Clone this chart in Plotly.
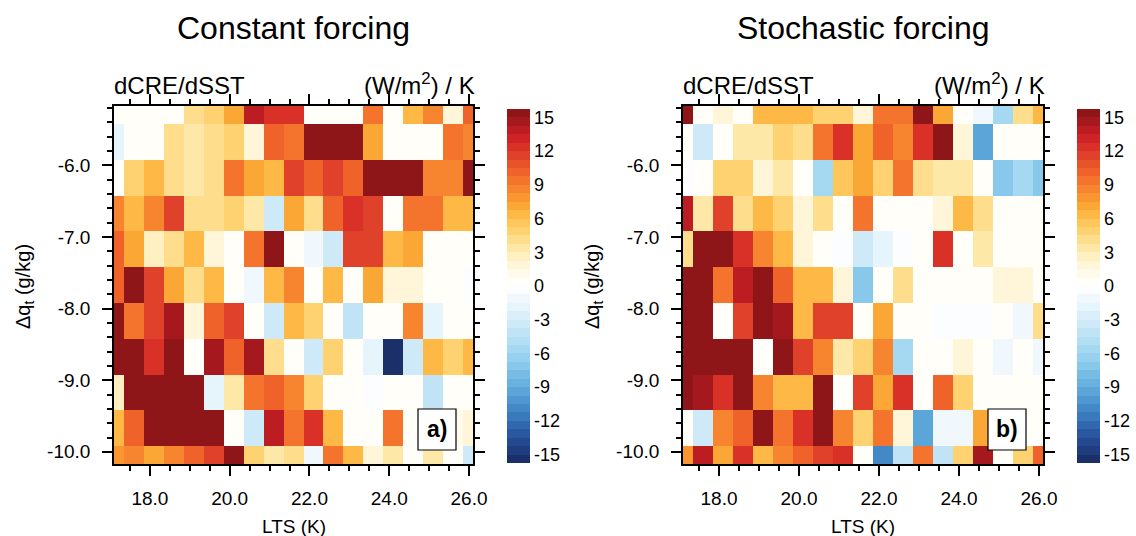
import plotly.graph_objects as go

# ---- data -------------------------------------------------------------
# bin centres of the LTS / delta-q_t grid
lts = [17.1, 17.6, 18.1, 18.6, 19.1, 19.6, 20.1, 20.6, 21.1, 21.6,
       22.1, 22.6, 23.1, 23.6, 24.1, 24.6, 25.1, 25.6, 26.1]
dqt = [-5.17, -5.67, -6.17, -6.67, -7.17, -7.67, -8.17, -8.67, -9.17, -9.67, -10.17]

# dCRE/dSST, (W/m2)/K; one row per dqt bin (same order as dqt)
const_forcing = [
    [0, 0, 0.5, 0, 4.2, 5.2, 7.2, 13.8, 12.5, 12.5, 0.5, 0.5, 0, 9.5, 0, 6.3, 8.5, 2.0, 10.3],
    [-2.0, 0, 0, 4.2, 3.5, 4.2, 5.2, 2.0, 10.3, 9.5, 16, 16, 16, 7.2, 0, 0, 0, 9.5, 8.5],
    [0, 5.2, 6.3, 4.2, 3.5, 4.2, 9.5, 7.2, 6.3, 11.5, 10.3, 11.5, 10.3, 16, 16, 16, 8.5, 8.5, 16],
    [8.5, 6.3, 8.5, 11.5, 4.2, 4.2, 5.2, 3.5, -3.3, 7.2, 4.2, 10.3, 12.5, 11.5, 0.5, 9.5, 9.5, 6.3, 6.3],
    [10.3, 7.2, 2.6, 4.2, 6.3, 2.0, 0.5, 9.5, 16, 0, -1.2, -3.3, 11.5, 11.5, 6.3, 7.2, 0.5, 0.5, 0.5],
    [10.3, 16, 11.5, 7.2, 4.2, 6.3, 0, -1.2, 6.3, 8.5, 0.5, 6.3, 0, 7.2, 2.0, 2.0, 0.2, 0, -0.5],
    [16, 9.5, 11.5, 14.5, 2.0, 10.3, 11.5, 0, -3.3, 6.3, 5.2, 0.3, -4.2, 0.3, 0.3, 8.5, -2.0, 0, 0],
    [16, 16, 12.5, 16, 0, 14.5, 10.3, 14.5, 4.2, 0, -3.3, 5.2, 0, -2.0, -16, -3.3, 6.3, 5.2, 6.3],
    [2.6, 16, 16, 16, 16, -2.0, 3.5, 9.5, 10.3, 8.5, 5.2, 0, 0, -0.2, 0.2, 0.2, -4.2, 0.2, 0],
    [6.3, 10.3, 16, 16, 16, 16, 0, -3.3, 13.8, 9.5, 12.5, 6.3, 0.4, 0.4, 9.5, 0.2, 0.2, 0.8, 1.5],
    [8.0, 8.5, 7.2, 8.5, 10.3, 11.5, 16, 5.2, 3.5, 4.2, -1.2, 9.5, 6.3, 2.0, 3.5, 0, 3.5, 0.5, -3.3],
]

stoch_forcing = [
    [16, 0, 2.0, 0.5, 6.3, 6.3, 6.3, 5.2, 5.2, 2.0, 9.5, 9.5, 16, 7.2, 0.3, -1.2, -5.6, 4.2, 6.3],
    [0, -3.3, 0, 3.5, 3.5, 5.2, 4.2, 9.5, 12.5, 7.2, 10.3, 8.5, 12.5, 16, 2.0, -9.5, 0, 0, 0],
    [-0.2, 0, 5.2, 5.2, 2.0, 3.5, 0.5, -5.6, 5.8, 7.2, 5.2, 9.5, 4.2, 3.5, 3.5, 0.3, -7.2, -5.6, -7.2],
    [13.8, 3.5, 11.5, 4.2, 6.3, 5.2, 2.0, 4.2, 0, 9.5, 0.5, 0.5, 0, 2.0, 6.3, 4.2, 0, 0.2, 0.3],
    [4.2, 16, 16, 12.5, 8.5, 6.3, 2.0, 0, -0.3, -3.3, -2.0, -0.3, 0, 12.5, 0, 3.5, 0, 0, 0],
    [16, 16, 9.5, 13.8, 16, 10.3, 6.3, 6.3, 2.0, -7.2, 0, 4.2, 0.3, 0, 0, 0, 2.0, 2.0, 0],
    [16, 16, 0, 11.5, 16, 14.5, 6.3, 11.5, 11.5, 0, 7.2, 0, 0.3, -0.2, -0.2, -0.2, 0, -1.2, 4.2],
    [16, 16, 16, 16, 0.5, 16, 11.5, 8.5, 3.5, 5.2, 8.5, -5.6, 0, 0, 2.0, 0, -1.2, 0, -1.0],
    [16, 14.5, 12.5, 16, 8.5, 6.3, 6.3, 16, 0, 11.5, 7.2, 12.5, 0.3, 10.3, 5.2, 0, 0, 0, 0],
    [0.3, -3.3, 8.5, 10.3, 16, 9.5, 12.5, 16, 8.5, 5.2, 9.5, 2.0, -9.5, -1.2, -1.2, 7.2, 0.3, 0.3, 0.3],
    [8.0, 13.8, 7.2, 12.5, 6.3, 8.5, 10.3, 11.5, 12.5, 0, -11, -4.2, 9.5, -4.2, 5.2, 14.5, 0, 5.2, 10.3],
]

cbar_ticks = [15, 12, 9, 6, 3, 0, -3, -6, -9, -12, -15]
x_ticks = [18, 20, 22, 24, 26]
y_ticks = [-10, -9, -8, -7, -6]

# ---- blue-white-orange-red palette, 42 boxes of 0.75 from -15.75 to 15.75
palette = [
    "#1B2F68", "#203D7F", "#244990", "#2A58A0", "#3168AF", "#3A79BC", "#4388C7",
    "#4E97D0", "#5CA5D8", "#69B1DF", "#78BCE5", "#88C8EB", "#97D1EF", "#A5D8F1",
    "#B3DEF3", "#C0E4F5", "#CEE9F7", "#DAEFF9", "#E6F4FB", "#F0F8FD", "#FBFDFF",
    "#FFFEF9", "#FFFAEA", "#FFF6D9", "#FFF0C2", "#FEE8A8", "#FEDD8C", "#FED271",
    "#FEC65B", "#FDB845", "#FBA735", "#F99632", "#F7852F", "#F4742D", "#EF632B",
    "#E8532A", "#E0412A", "#D93127", "#CF2327", "#BB1D23", "#A5191E", "#8E1518",
]
n = len(palette)
colorscale = []
for i, c in enumerate(palette):
    colorscale.append([i / n, c])
    colorscale.append([(i + 1) / n, c])
ZMIN, ZMAX = -15.75, 15.75

W, H = 1136, 536
FONT = "Liberation Sans, Arial, Helvetica, sans-serif"

# panel geometry in pixels
panels = [
    dict(x0=114, x1=473, cb=507, data=const_forcing, title="Constant forcing", tag="a)"),
    dict(x0=683, x1=1043, cb=1077, data=stoch_forcing, title="Stochastic forcing", tag="b)"),
]
PY0, PY1 = 106, 464   # top / bottom of plot area


def px(x):
    return x / W


def py(y):
    return 1 - y / H


fig = go.Figure()
annotations = []
shapes = []

for k, p in enumerate(panels, start=1):
    xa = "x" if k == 1 else f"x{k}"
    ya = "y" if k == 1 else f"y{k}"
    fig.add_trace(go.Heatmap(
        x=lts, y=dqt, z=p["data"],
        xaxis=xa, yaxis=ya,
        colorscale=colorscale, zmin=ZMIN, zmax=ZMAX,
        colorbar=dict(
            x=px(p["cb"]), xanchor="left", xpad=0,
            y=py((PY0 + PY1) / 2 + 1), yanchor="middle", ypad=0,
            len=354, lenmode="pixels", thickness=23, thicknessmode="pixels",
            outlinewidth=0, ticks="", ticklabelposition="outside",
            tickmode="array", tickvals=cbar_ticks,
            ticktext=[str(t) for t in cbar_ticks],
            tickfont=dict(family=FONT, size=18, color="black"),
        ),
        hoverinfo="skip",
    ))

    axis_common = dict(
        showline=True, linecolor="black", linewidth=1.6, mirror="allticks",
        ticks="outside", ticklen=10, tickwidth=1.6, tickcolor="black",
        showgrid=False, zeroline=False, automargin=False,
        tickfont=dict(family=FONT, size=19, color="black"),
    )
    fig.update_layout(**{
        ("xaxis" if k == 1 else f"xaxis{k}"): dict(
            axis_common, domain=[px(p["x0"]), px(p["x1"])], anchor=ya,
            range=[lts[0], lts[-1]], tickmode="array", tickvals=x_ticks,
            ticktext=[f"{t:.1f}" for t in x_ticks], ticklabelstandoff=6,
            minor=dict(tickmode="linear", tick0=17, dtick=0.5, ticks="outside",
                       ticklen=5, tickwidth=1.6, tickcolor="black"),
        ),
        ("yaxis" if k == 1 else f"yaxis{k}"): dict(
            axis_common, domain=[py(PY1), py(PY0)], anchor=xa,
            range=[dqt[-1], dqt[0]], tickmode="array", tickvals=y_ticks,
            ticktext=[f"{t:.1f}".replace("\u2212", "-") for t in y_ticks],
            ticklabelstandoff=8,
            minor=dict(tickmode="linear", tick0=-10, dtick=0.2, ticks="outside",
                       ticklen=5, tickwidth=1.6, tickcolor="black"),
        ),
    })

    cx = (p["x0"] + p["x1"]) / 2
    annotations += [
        dict(text=p["title"], x=px(cx), y=py(28), xref="paper", yref="paper",
             xanchor="center", yanchor="middle", showarrow=False,
             font=dict(family=FONT, size=32, color="black")),
        dict(text="dCRE/dSST", x=px(p["x0"] - 2), y=py(86), xref="paper", yref="paper",
             xanchor="left", yanchor="middle", showarrow=False,
             font=dict(family=FONT, size=24, color="black")),
        dict(text="(W/m<sup>2</sup>) / K", x=px(p["x1"] + 4), y=py(84), xref="paper",
             yref="paper", xanchor="right", yanchor="middle", showarrow=False,
             font=dict(family=FONT, size=24, color="black")),
        dict(text="LTS (K)", x=px(cx), y=py(526), xref="paper", yref="paper",
             xanchor="center", yanchor="middle", showarrow=False,
             font=dict(family=FONT, size=19, color="black")),
        dict(text="\u0394q<sub>t</sub> (g/kg)", x=px(p["x0"] - 90), y=py(287),
             xref="paper", yref="paper", xanchor="center", yanchor="middle",
             textangle=-90, showarrow=False,
             font=dict(family=FONT, size=20, color="black")),
        dict(text="<b>" + p["tag"] + "</b>", x=px(p["x1"] - 36), y=py(429),
             xref="paper", yref="paper", xanchor="center", yanchor="middle",
             showarrow=False, font=dict(family=FONT, size=23, color="black")),
    ]
    shapes.append(dict(type="rect", xref="paper", yref="paper",
                       x0=px(p["x1"] - 55), x1=px(p["x1"] - 17),
                       y0=py(450), y1=py(409),
                       line=dict(color="black", width=1.2), fillcolor="white"))

fig.update_layout(
    width=W, height=H,
    margin=dict(l=0, r=0, t=0, b=0, autoexpand=False),
    paper_bgcolor="white", plot_bgcolor="white",
    annotations=annotations, shapes=shapes,
    font=dict(family=FONT, color="black"),
)

fig.write_html("out.html")
